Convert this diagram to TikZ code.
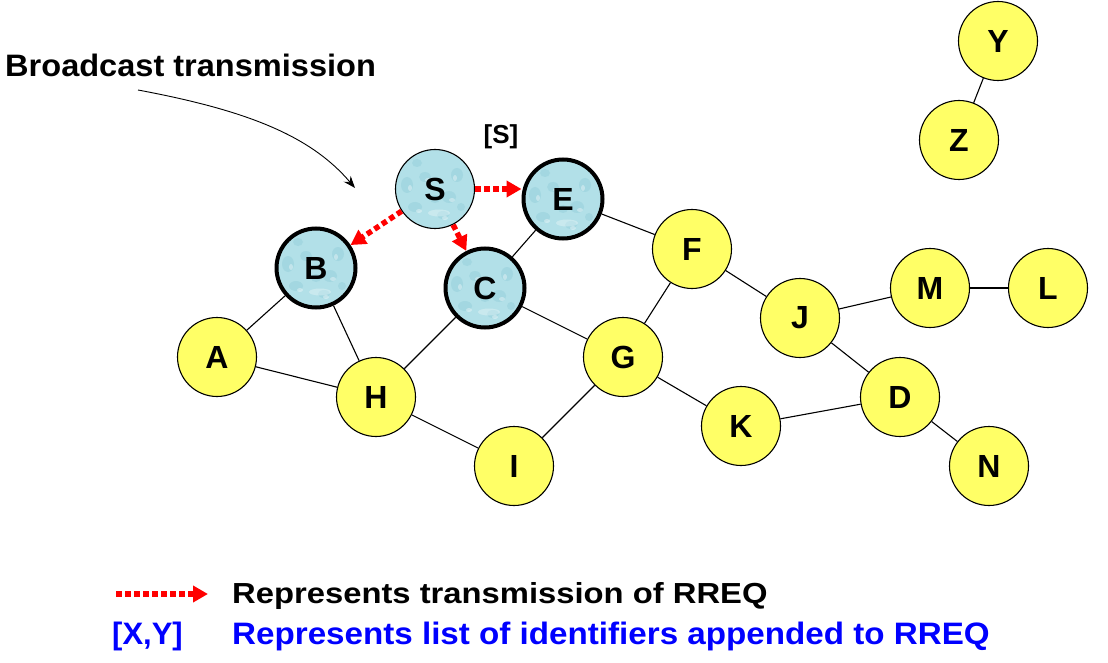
\documentclass[tikz,border=0pt]{standalone}
\usepackage{fontspec}
\setmainfont{Liberation Sans}
\usetikzlibrary{arrows.meta}
\definecolor{nodeyellow}{RGB}{255,255,102}
\definecolor{nodeblue}{RGB}{178,224,232}
\definecolor{spotdark}{RGB}{130,196,210}
\definecolor{legblue}{RGB}{0,0,255}
\begin{document}
\begin{tikzpicture}[x=1pt,y=-1pt,
  yellownode/.style={circle,draw=black,line width=1.1pt,fill=nodeyellow,minimum size=79pt,inner sep=0pt,font=\fontsize{32}{32}\selectfont\bfseries},
  bluenode/.style={yellownode,fill=nodeblue,
    path picture={
      \foreach \dx/\dy/\rx/\ry in {-20/-18/7/5, 8/-26/6/4, -28/4/6/8, 14/-8/7/6, -10/12/6/5, 22/14/6/7, -18/26/5/4, 26/-18/4/4, 0/-10/5/4}
        \fill[spotdark,opacity=0.3] ([xshift=\dx pt,yshift=\dy pt]path picture bounding box.center) ellipse ({\rx pt} and {\ry pt});
      \foreach \dx/\dy/\rx/\ry in {-16/-22/3/2, 10/-29/3/2, -25/1/2/3, 17/-11/3/2, -7/9/3/2, 20/11/2/3}
        \fill[white,opacity=0.35] ([xshift=\dx pt,yshift=\dy pt]path picture bounding box.center) ellipse ({\rx pt} and {\ry pt});
      \fill[white,opacity=0.3] ([xshift=4pt,yshift=-24pt]path picture bounding box.center) ellipse (11pt and 3.5pt);
    }},
  thickborder/.style={line width=4pt},
  link/.style={line width=1.1pt},
  rreq/.style={red,line width=5.5pt,dash pattern=on 5.5pt off 3.5pt,-{Triangle[length=15pt,width=16pt]}},
  pointer/.style={line width=0.9pt,-{Stealth[length=12pt,width=9pt]}},
  bigtext/.style={font=\fontsize{31}{31}\selectfont\bfseries,inner sep=0pt}
 ]
\useasboundingbox (0,0) rectangle (1108,663);

% nodes
\node[yellownode] (Y) at (998,41) {Y};
\node[yellownode] (Z) at (959,140) {Z};
\node[bluenode] (S) at (435,189) {S};
\node[bluenode,thickborder] (E) at (563,199) {E};
\node[bluenode,thickborder] (B) at (316,268) {B};
\node[bluenode,thickborder] (C) at (485,288) {C};
\node[yellownode] (F) at (692,249) {F};
\node[yellownode] (M) at (930,288) {M};
\node[yellownode] (L) at (1048,288) {L};
\node[yellownode] (J) at (800,318) {J};
\node[yellownode] (A) at (217,357) {A};
\node[yellownode] (G) at (623,357) {G};
\node[yellownode] (H) at (376,397) {H};
\node[yellownode] (D) at (900,397) {D};
\node[yellownode] (K) at (741,426) {K};
\node[yellownode] (I) at (514,466) {I};
\node[yellownode] (N) at (989,466) {N};

% links
\draw[link] (Y) -- (Z);
\draw[link] (E) -- (F);
\draw[link] (E) -- (C);
\draw[link] (B) -- (A);
\draw[link] (B) -- (H);
\draw[link] (C) -- (H);
\draw[link] (C) -- (G);
\draw[link] (A) -- (H);
\draw[link] (H) -- (I);
\draw[link] (F) -- (G);
\draw[link] (F) -- (J);
\draw[link] (G) -- (I);
\draw[link] (G) -- (K);
\draw[link] (J) -- (M);
\draw[link] (M) -- (L);
\draw[link] (J) -- (D);
\draw[link] (K) -- (D);
\draw[link] (D) -- (N);

% RREQ transmissions
\draw[rreq] (S.east) -- (S.east -| E.west);
\draw[rreq] (S) -- (B);
\draw[rreq] (S) -- (C);

% labels
\node[font=\fontsize{26}{26}\selectfont\bfseries, inner sep=0pt, anchor=base] (lbl) at (501,144) {[S]};
\node[bigtext, anchor=base west, xscale=1.05] (bt) at (5,77) {Broadcast transmission};
\coordinate (btstart) at (138,90);
\coordinate (btend) at (355,188);
\draw[pointer] (btstart) .. controls (245,110) and (310,135) .. (btend);

% legend
\coordinate (la) at (116,594);
\coordinate (lb) at (208,594);
\draw[rreq] (la) -- (lb);
\node[font=\fontsize{29}{29}\selectfont\bfseries, inner sep=0pt, anchor=base west, xscale=1.13] (l1) at (232,603) {Represents transmission of RREQ};
\node[bigtext, text=legblue, anchor=base west] (xy) at (112,644) {[X,Y]};
\node[bigtext, text=legblue, anchor=base west, xscale=1.07] (l2) at (232,644) {Represents list of identifiers appended to RREQ};
\end{tikzpicture}
\end{document}
